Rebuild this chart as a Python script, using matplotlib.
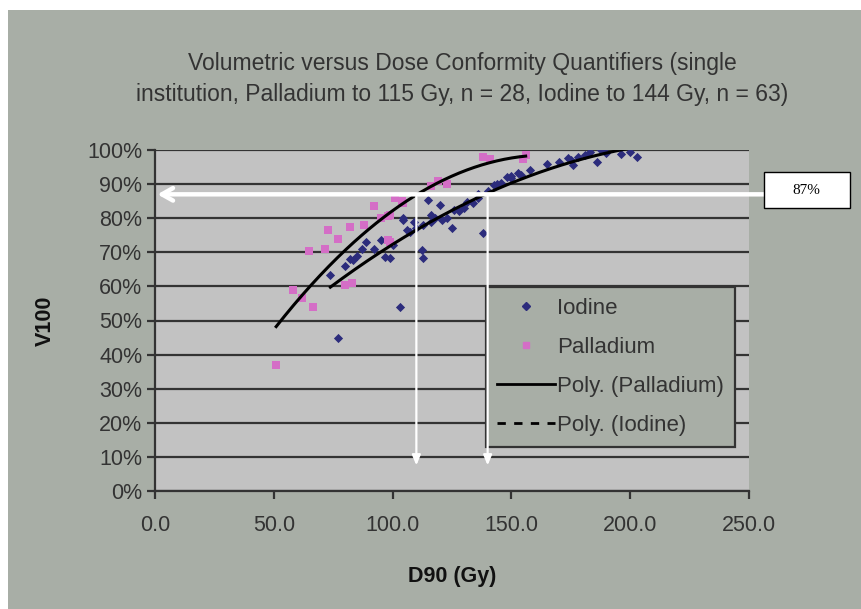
import numpy as np
import matplotlib.pyplot as plt
from matplotlib.lines import Line2D
from matplotlib.patches import Rectangle
from matplotlib.ticker import PercentFormatter

plt.rcParams['font.family'] = ['Liberation Sans', 'DejaVu Sans']

# D90 (Gy) and V100 (%)
iodine_d90 = [77, 103, 73.8, 83.5, 85, 89, 95, 97, 99, 104.5, 106, 104.5, 107.5, 113,
              114.7, 116, 121, 125, 138, 112.5, 113, 131.5, 134, 135.8, 142.5, 145.5,
              149.7, 152.6, 154, 173.7, 176, 181, 183, 186, 203, 187.6, 170, 165, 128,
              130, 118, 110, 109, 100, 92, 87, 80, 82, 120, 126, 140, 148, 150, 158,
              175, 178, 190, 200, 196, 144, 123, 116, 136]
iodine_v100 = [45, 54, 63.3, 67.7, 69, 73, 73.6, 68.6, 68.3, 79.5, 76.5, 80, 76, 78,
               85.3, 81, 79.5, 77, 75.6, 70.7, 68.3, 84.7, 84.5, 86, 89.7, 90.3,
               91.8, 93.3, 92.7, 97.6, 95.6, 98.5, 99.4, 96.5, 98, 100, 96.5, 96, 82,
               83, 80, 77, 79, 72, 71, 71, 66, 68, 84, 82.5, 88, 92, 92.5, 94,
               97, 98, 99, 99.5, 98.8, 90, 80, 79, 87]

palladium_d90 = [51, 58, 62, 66.5, 65, 71.5, 73, 77, 80, 82, 92, 98, 98, 104.5, 104,
                 99, 116, 138, 141, 155, 156, 88, 95, 101, 83, 119, 99, 123]
palladium_v100 = [37, 59, 56.5, 54, 70.5, 71, 76.5, 74, 60.5, 77.5, 83.5, 80.5, 73.5,
                  84.5, 85, 81, 89.5, 98, 97.5, 97.5, 98.5, 78, 80, 86, 61, 91, 73, 90]

marker_level = 87
marker_doses = [110, 140]

title = ('Volumetric versus Dose Conformity Quantifiers (single\n'
         'institution, Palladium to 115 Gy, n = 28, Iodine to 144 Gy, n = 63)')

bg = '#a8aea6'
fig = plt.figure(figsize=(8.62, 6.09), dpi=100)
fig.patch.set_facecolor('white')
fig.patches.append(Rectangle((8 / 862, 0), 1, 1 - 10 / 609, transform=fig.transFigure,
                             facecolor=bg, edgecolor='none', zorder=-10))

ax = fig.add_axes([155 / 862, 1 - 491 / 609, 594 / 862, 341 / 609])
ax.set_facecolor('#c2c2c2')

ix = np.array(iodine_d90)
iy = np.array(iodine_v100) / 100
px = np.array(palladium_d90)
py = np.array(palladium_v100) / 100

ax.scatter(ix, iy, marker='D', s=22, color='#2c2c7c', zorder=3, linewidths=0)
ax.scatter(px, py, marker='s', s=26, color='#d46ec6', zorder=3, linewidths=0)

# 2nd order polynomial trendlines, as Excel draws them
for xs, ys in [(px, py), (ix, iy)]:
    c = np.polyfit(xs, ys, 2)
    xx = np.linspace(xs.min(), xs.max(), 200)
    ax.plot(xx, np.polyval(c, xx), color='black', lw=2.2, zorder=4)

ax.set_xlim(0, 250)
ax.set_ylim(0, 1)
ax.set_xticks(np.arange(0, 251, 50))
ax.set_xticklabels([f'{v:.1f}' for v in np.arange(0, 251, 50)])
ax.set_yticks(np.arange(0, 1.01, 0.1))
ax.yaxis.set_major_formatter(PercentFormatter(1.0, decimals=0))
ax.yaxis.grid(True, color='#333333', lw=1.6)
ax.set_axisbelow(True)
for s in ['top', 'right']:
    ax.spines[s].set_visible(False)
for s in ['left', 'bottom']:
    ax.spines[s].set_color('#333333')
    ax.spines[s].set_linewidth(1.6)
ax.tick_params(direction='out', length=6, width=1.6, color='#333333',
               labelsize=15.5, labelcolor='#333333', pad=3)
ax.tick_params(axis='x', pad=11)

ax.set_xlabel('D90 (Gy)', fontsize=15.5, fontweight='bold', labelpad=22, color='#111111')
ax.set_ylabel('V100', fontsize=15.5, fontweight='bold', labelpad=23, color='#111111')

fig.text(462 / 862, 1 - 79 / 609, title, ha='center', va='center', fontsize=16.5,
         color='#333333', linespacing=1.45)

# white guide arrows
y0 = marker_level / 100
ax.annotate('', xy=(1, y0), xytext=(258, y0), annotation_clip=False,
            arrowprops=dict(arrowstyle='->,head_length=0.8,head_width=0.45',
                            color='white', lw=3.2, shrinkA=0, shrinkB=0), zorder=6)
for d in marker_doses:
    ax.annotate('', xy=(d, 0.075), xytext=(d, y0),
                arrowprops=dict(arrowstyle='-|>,head_length=0.6,head_width=0.25',
                                color='white', lw=1.6, shrinkA=0, shrinkB=0), zorder=6)

fig.patches.append(Rectangle((764 / 862, 1 - 208 / 609), 86 / 862, 36 / 609,
                             transform=fig.transFigure, facecolor='white',
                             edgecolor='black', lw=1, zorder=7))
fig.text(806 / 862, 1 - 190 / 609, '87%', ha='center', va='center', fontsize=11,
         family='Liberation Serif', zorder=8)

handles = [
    Line2D([], [], ls='none', marker='D', ms=4.5, color='#2c2c7c'),
    Line2D([], [], ls='none', marker='s', ms=5, color='#d46ec6'),
    Line2D([], [], color='black', lw=2),
    Line2D([], [], color='black', lw=2, ls=(0, (3, 3))),
]
labels = ['Iodine', 'Palladium', 'Poly. (Palladium)', 'Poly. (Iodine)']
leg = ax.legend(handles, labels, loc='upper left', bbox_to_anchor=(0.557, 0.598),
                fontsize=16, frameon=True, fancybox=False, handlelength=2.6,
                handletextpad=0.1, labelspacing=0.8, borderpad=0.5,
                borderaxespad=0, labelcolor='#333333')
leg.get_frame().set_facecolor(bg)
leg.get_frame().set_edgecolor('#333333')
leg.get_frame().set_linewidth(1.6)
leg.get_frame().set_alpha(1)
leg.set_zorder(5)

fig.savefig('out.png', dpi=100)
